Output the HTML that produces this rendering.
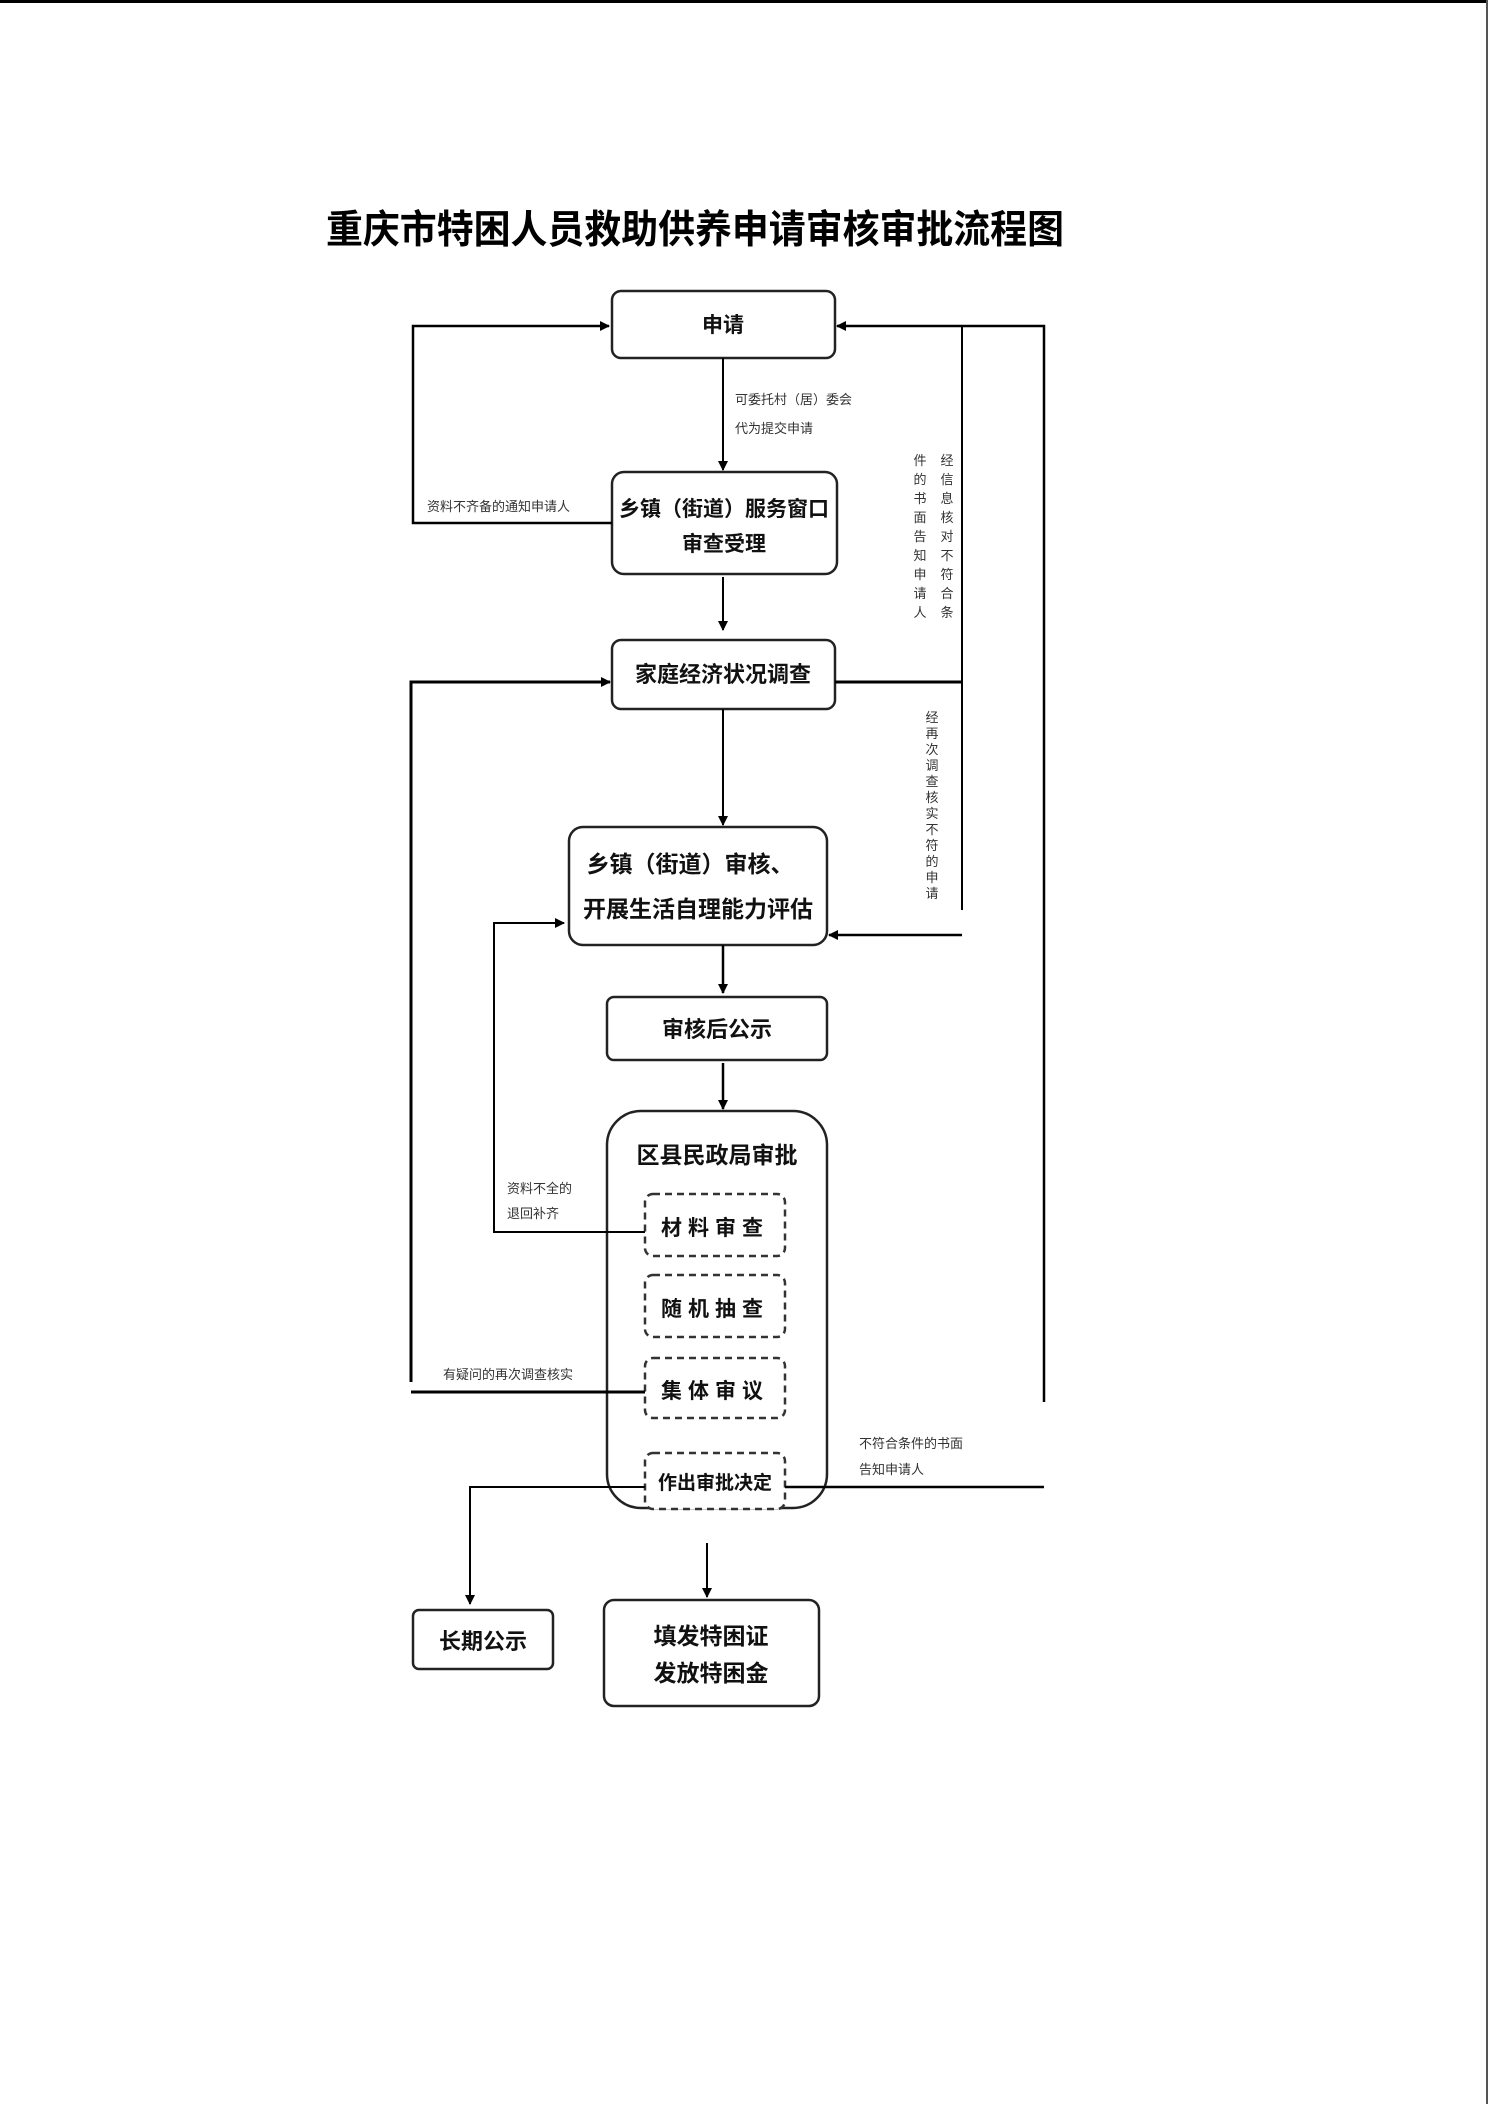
<!DOCTYPE html>
<html><head><meta charset="utf-8"><style>
html,body{margin:0;padding:0;background:#fff;}
body{width:1488px;height:2104px;overflow:hidden;position:relative;}
svg text{font-family:"Liberation Sans","Noto Sans CJK SC","WenQuanYi Zen Hei",sans-serif;}
</style></head><body>
<svg width="1488" height="2104" viewBox="0 0 1488 2104" xmlns="http://www.w3.org/2000/svg">
<defs>
<marker id="a" markerWidth="10" markerHeight="10" refX="9" refY="5" orient="auto" markerUnits="userSpaceOnUse">
<path d="M0,0 L10,5 L0,10 Z" fill="#000"/></marker>
</defs>
<line x1="0" y1="1.5" x2="1488" y2="1.5" stroke="#000" stroke-width="3"/>
<line x1="1487" y1="0" x2="1487" y2="2104" stroke="#555" stroke-width="2"/>

<text x="326" y="243" font-size="39" font-weight="bold" textLength="738" lengthAdjust="spacingAndGlyphs">重庆市特困人员救助供养申请审核审批流程图</text>

<g fill="#fff" stroke="#222" stroke-width="2.5">
<rect x="612" y="291" width="223" height="67" rx="9"/>
<rect x="612" y="472" width="225" height="102" rx="12"/>
<rect x="612" y="640" width="223" height="69" rx="9"/>
<rect x="569" y="827" width="258" height="118" rx="14"/>
<rect x="607" y="997" width="220" height="63" rx="7"/>
<rect x="607" y="1111" width="220" height="397" rx="34"/>
<rect x="413" y="1610" width="140" height="59" rx="6"/>
<rect x="604" y="1600" width="215" height="106" rx="10"/>
</g>
<g fill="#fff" stroke="#333" stroke-width="2.5" stroke-dasharray="7,5">
<rect x="645" y="1194" width="140" height="62" rx="8"/>
<rect x="645" y="1275" width="140" height="62" rx="8"/>
<rect x="645" y="1358" width="140" height="60" rx="8"/>
<rect x="645" y="1453" width="140" height="56" rx="8"/>
</g>

<g font-weight="bold" fill="#111" text-anchor="middle">
<text x="723" y="332" font-size="21">申请</text>
<text x="724" y="516" font-size="21">乡镇（街道）服务窗口</text>
<text x="724" y="551" font-size="21">审查受理</text>
<text x="723" y="682" font-size="22">家庭经济状况调查</text>
<text x="690" y="872" font-size="23">乡镇（街道）审核、</text>
<text x="698" y="917" font-size="23">开展生活自理能力评估</text>
<text x="717" y="1037" font-size="22">审核后公示</text>
<text x="717" y="1163" font-size="23">区县民政局审批</text>
<text x="715" y="1235" font-size="21" letter-spacing="6">材料审查</text>
<text x="715" y="1316" font-size="21" letter-spacing="6">随机抽查</text>
<text x="715" y="1398" font-size="21" letter-spacing="6">集体审议</text>
<text x="715" y="1489" font-size="19">作出审批决定</text>
<text x="483" y="1649" font-size="22">长期公示</text>
<text x="711" y="1644" font-size="23">填发特困证</text>
<text x="711" y="1681" font-size="23">发放特困金</text>
</g>

<g stroke="#000" stroke-width="2" fill="none">
<polyline points="612,523 413,523 413,326 609,326" marker-end="url(#a)" stroke-width="2.5"/>
<line x1="723" y1="358" x2="723" y2="470" marker-end="url(#a)"/>
<line x1="723" y1="577" x2="723" y2="630" marker-end="url(#a)"/>
<polyline points="411,1382 411,682 610,682" marker-end="url(#a)" stroke-width="3"/>
<line x1="411" y1="1392" x2="645" y2="1392" stroke-width="3"/>
<line x1="723" y1="709" x2="723" y2="825" marker-end="url(#a)"/>
<line x1="835" y1="682" x2="962" y2="682" stroke-width="3"/>
<line x1="962" y1="326" x2="962" y2="910"/>
<polyline points="1044,1402 1044,326 837,326" marker-end="url(#a)" stroke-width="2.5"/>
<line x1="962" y1="935" x2="829" y2="935" marker-end="url(#a)" stroke-width="2.5"/>
<line x1="785" y1="1487" x2="1044" y2="1487" stroke-width="2.5"/>
<line x1="723" y1="945" x2="723" y2="993" marker-end="url(#a)" stroke-width="2.5"/>
<line x1="723" y1="1063" x2="723" y2="1109" marker-end="url(#a)" stroke-width="2.5"/>
<polyline points="645,1232 494,1232 494,923 564,923" marker-end="url(#a)"/>
<polyline points="645,1487 470,1487 470,1604" marker-end="url(#a)"/>
<line x1="707" y1="1543" x2="707" y2="1597" marker-end="url(#a)"/>
</g>

<g font-size="13" fill="#333">
<text x="427" y="511">资料不齐备的通知申请人</text>
<text x="735" y="404">可委托村（居）委会</text>
<text x="735" y="433">代为提交申请</text>
<text x="507" y="1193">资料不全的</text>
<text x="507" y="1218">退回补齐</text>
<text x="443" y="1379">有疑问的再次调查核实</text>
<text x="859" y="1448">不符合条件的书面</text>
<text x="859" y="1474">告知申请人</text>
</g>
<g font-size="13" fill="#333" text-anchor="middle">
<text x="947" y="465">经</text><text x="947" y="484">信</text><text x="947" y="503">息</text><text x="947" y="522">核</text><text x="947" y="541">对</text><text x="947" y="560">不</text><text x="947" y="579">符</text><text x="947" y="598">合</text><text x="947" y="617">条</text>
<text x="920" y="465">件</text><text x="920" y="484">的</text><text x="920" y="503">书</text><text x="920" y="522">面</text><text x="920" y="541">告</text><text x="920" y="560">知</text><text x="920" y="579">申</text><text x="920" y="598">请</text><text x="920" y="617">人</text>
<text x="932" y="722">经</text><text x="932" y="738">再</text><text x="932" y="754">次</text><text x="932" y="770">调</text><text x="932" y="786">查</text><text x="932" y="802">核</text><text x="932" y="818">实</text><text x="932" y="834">不</text><text x="932" y="850">符</text><text x="932" y="866">的</text><text x="932" y="882">申</text><text x="932" y="898">请</text>
</g>
</svg>
</body></html>
